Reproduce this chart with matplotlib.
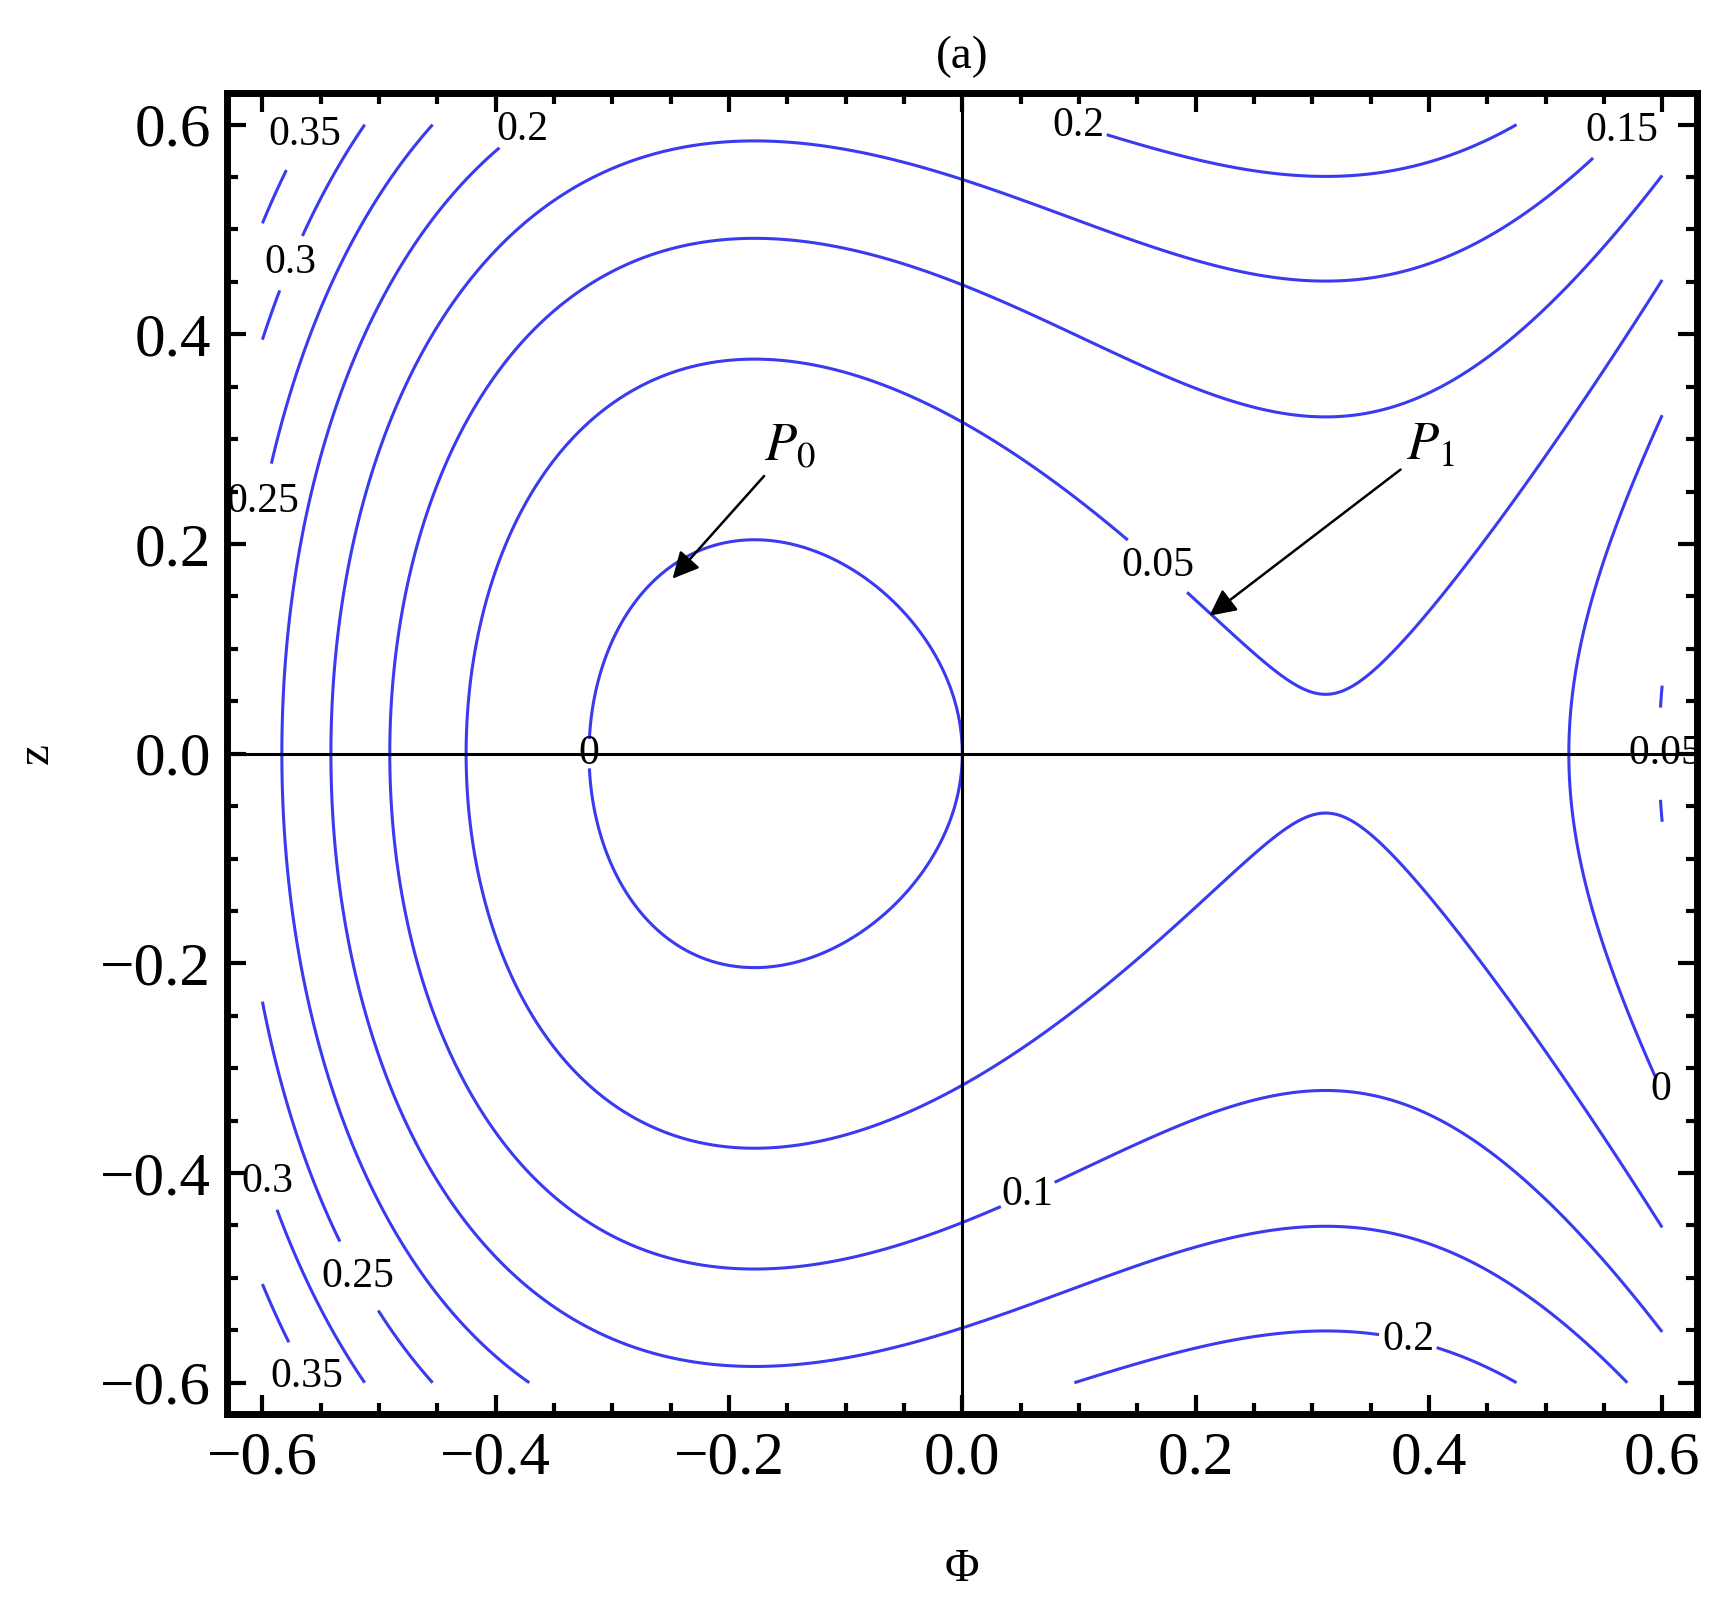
import matplotlib.pyplot as plt
import numpy as np
from matplotlib.ticker import MultipleLocator

# potential V(phi) = -k * phi * (phi - r1) * (phi - r2), H = z^2 / 2 + V
roots = [-0.32, 0.52]
k_coef = 1.18
levels = [-0.05, 0.0, 0.05, 0.1, 0.15, 0.2, 0.25, 0.3, 0.35]
label_spots = [(0.595, 0.0), (-0.33, 0.0), (0.6, -0.32), (0.2, 0.22), (0.06, -0.43),
               (-0.38, 0.6), (0.56, 0.6), (0.1, 0.6), (0.38, -0.57), (-0.52, -0.5),
               (-0.6, 0.24), (-0.58, 0.47), (-0.6, -0.41), (-0.58, 0.6), (-0.57, -0.6)]
arrows = [("$P_0$", (-0.25, 0.165), (-0.17, 0.28)), ("$P_1$", (0.21, 0.13), (0.38, 0.28))]

plt.rcParams["font.family"] = ["Liberation Serif", "DejaVu Serif"]
plt.rcParams["mathtext.fontset"] = "stix"

phi = np.linspace(-0.6, 0.6, 600)
z = np.linspace(-0.6, 0.6, 600)
P, Z = np.meshgrid(phi, z)
H = Z**2 / 2 - k_coef * P * (P - roots[0]) * (P - roots[1])

fig = plt.figure(figsize=(17.23, 16.07), dpi=100)
ax = fig.add_axes([0.132, 0.12, 0.853, 0.822])
cs = ax.contour(P, Z, H, levels=levels, colors="#3a3af0", linewidths=2.2,
                negative_linestyles="solid")
labels = ax.clabel(cs, fmt="%g", fontsize=30, manual=label_spots, inline=True, colors="black")
for t in labels:
    t.set_rotation(0)
ax.axhline(0, color="black", lw=2.2)
ax.axvline(0, color="black", lw=2.2)
for text, tip, tail in arrows:
    ax.annotate(text, xy=tip, xytext=tail, fontsize=38,
                arrowprops=dict(arrowstyle="-|>", color="black", lw=1.8, mutation_scale=40))

ax.set_xlim(-0.63, 0.63)
ax.set_ylim(-0.63, 0.63)
ax.xaxis.set_major_locator(MultipleLocator(0.2))
ax.yaxis.set_major_locator(MultipleLocator(0.2))
ax.xaxis.set_minor_locator(MultipleLocator(0.05))
ax.yaxis.set_minor_locator(MultipleLocator(0.05))
ax.xaxis.set_major_formatter(lambda v, p: f"{v:.1f}".replace("-", "\u2212"))
ax.yaxis.set_major_formatter(lambda v, p: f"{v:.1f}".replace("-", "\u2212"))
ax.tick_params(which="both", direction="in", top=True, right=True, width=3, labelsize=44, pad=12)
ax.tick_params(which="major", length=14)
ax.tick_params(which="minor", length=8)
for s in ax.spines.values():
    s.set_linewidth(5)
ax.set_xlabel("\u03a6", fontsize=34, labelpad=45)
ax.set_ylabel("z", fontsize=34, labelpad=30)
ax.set_title("(a)", fontsize=34, pad=18)
fig.savefig("out.png")
